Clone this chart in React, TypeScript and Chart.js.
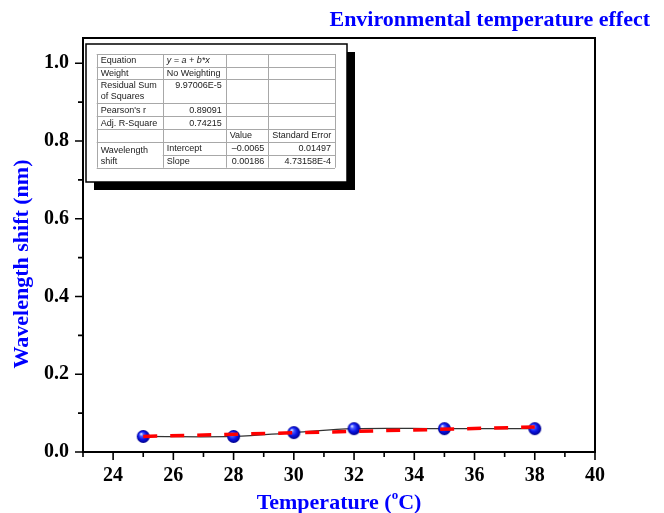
import React, { useEffect, useRef } from 'react';
import { Chart, registerables } from 'chart.js';

Chart.register(...registerables);

// ---- data ----
const temperatures = [25, 28, 30, 32, 35, 38];
const wavelengthShift = [0.04, 0.04, 0.05, 0.06, 0.06, 0.06];
// linear fit endpoints (y = -0.0065 + 0.00186 x, drawn from 25 to 38)
const fitX = [25, 38];
const fitY = [0.04, 0.0642];

const xMin = 23;
const xMax = 40;
const yMin = 0;
const yMax = 1.065;

const chartTitle = 'Environmental temperature effect';
const yTitle = 'Wavelength shift (nm)';
const xTitleMain = 'Temperature (';
const xTitleSup = 'o';
const xTitleEnd = 'C)';

// inset table text
const statLabels = ['Equation', 'Weight', 'Residual Sum\nof Squares', "Pearson's r", 'Adj. R-Square'];
const statValues = ['y = a + b*x', 'No Weighting', '9.97006E-5', '0.89091', '0.74215'];
const paramHeader = ['Value', 'Standard Error'];
const paramGroup = 'Wavelength\nshift';
const paramNames = ['Intercept', 'Slope'];
const paramValues = ['\u20130.0065', '0.00186'];
const paramErrors = ['0.01497', '4.73158E-4'];

const SERIF = '"Liberation Serif", "Times New Roman", serif';
const SANS = '"Liberation Sans", Arial, sans-serif';
const BLUE = '#0000ff';

function makeSphere(r: number) {
  const c = document.createElement('canvas');
  const s = Math.ceil(r * 2) + 2;
  c.width = s;
  c.height = s;
  const g = c.getContext('2d')!;
  const cx = s / 2, cy = s / 2;
  const grad = g.createRadialGradient(cx - r * 0.35, cy - r * 0.4, r * 0.05, cx, cy, r);
  grad.addColorStop(0, '#e6eaff');
  grad.addColorStop(0.25, '#4a5cff');
  grad.addColorStop(0.6, '#0a14e6');
  grad.addColorStop(1, '#00008a');
  g.fillStyle = grad;
  g.beginPath();
  g.arc(cx, cy, r, 0, Math.PI * 2);
  g.fill();
  return c;
}

const decorPlugin = {
  id: 'decor',
  afterDraw(chart: any) {
    const ctx: CanvasRenderingContext2D = chart.ctx;
    const { left, right, top, bottom } = chart.chartArea;
    const xs = chart.scales.x;
    const ys = chart.scales.y;
    ctx.save();

    // frame
    ctx.strokeStyle = '#000';
    ctx.lineWidth = 2;
    ctx.strokeRect(left, top, right - left, bottom - top);

    // tick marks
    ctx.lineWidth = 1.6;
    ctx.beginPath();
    xs.ticks.forEach((t: any) => {
      const v = t.value;
      const px = xs.getPixelForValue(v);
      const major = Math.abs(v / 2 - Math.round(v / 2)) < 1e-6;
      ctx.moveTo(px, bottom);
      ctx.lineTo(px, bottom + (major ? 8 : 5));
    });
    ys.ticks.forEach((t: any) => {
      const v = t.value;
      const py = ys.getPixelForValue(v);
      const k = Math.round(v * 10);
      const major = k % 2 === 0;
      ctx.moveTo(left, py);
      ctx.lineTo(left - (major ? 8 : 5), py);
    });
    ctx.stroke();

    // titles
    ctx.fillStyle = BLUE;
    ctx.font = `bold 22px ${SERIF}`;
    ctx.textBaseline = 'middle';
    ctx.textAlign = 'right';
    ctx.fillText(chartTitle, right + 55, 20);

    // y title
    ctx.save();
    ctx.translate(22, (top + bottom) / 2 + 19);
    ctx.rotate(-Math.PI / 2);
    ctx.textAlign = 'center';
    ctx.fillText(yTitle, 0, 0);
    ctx.restore();

    // x title with superscript
    ctx.textAlign = 'left';
    ctx.font = `bold 22px ${SERIF}`;
    const w1 = ctx.measureText(xTitleMain).width;
    const w3 = ctx.measureText(xTitleEnd).width;
    ctx.font = `bold 13px ${SERIF}`;
    const w2 = ctx.measureText(xTitleSup).width;
    const total = w1 + w2 + w3;
    let x0 = (left + right) / 2 - total / 2;
    const yT = 503;
    ctx.font = `bold 22px ${SERIF}`;
    ctx.fillText(xTitleMain, x0, yT);
    x0 += w1;
    ctx.font = `bold 13px ${SERIF}`;
    ctx.fillText(xTitleSup, x0, yT - 7);
    x0 += w2;
    ctx.font = `bold 22px ${SERIF}`;
    ctx.fillText(xTitleEnd, x0, yT);

    // inset table
    const bx = left + 3, by = top + 6, bw = 261, bh = 138;
    ctx.fillStyle = '#000';
    ctx.fillRect(bx + 8, by + 8, bw, bh);
    ctx.fillStyle = '#fff';
    ctx.fillRect(bx, by, bw, bh);
    ctx.strokeStyle = '#000';
    ctx.lineWidth = 1.5;
    ctx.strokeRect(bx, by, bw, bh);

    const tx = bx + 10.7, ty = by + 10;
    const colW = [66, 63, 42.6, 66.7];
    const rowH = [12.7, 12.6, 24, 13, 12.7, 12.7, 13.3, 12.7];
    const cx: number[] = [tx];
    colW.forEach((w) => cx.push(cx[cx.length - 1] + w));
    const ry: number[] = [ty];
    rowH.forEach((h) => ry.push(ry[ry.length - 1] + h));

    ctx.strokeStyle = '#a8a8a8';
    ctx.lineWidth = 1;
    ctx.beginPath();
    for (let i = 0; i < cx.length; i++) {
      const xx = Math.round(cx[i]) + 0.5;
      ctx.moveTo(xx, ry[0]);
      ctx.lineTo(xx, ry[ry.length - 1]);
    }
    for (let j = 0; j < ry.length; j++) {
      const yy = Math.round(ry[j]) + 0.5;
      const startX = j === 7 ? cx[1] : cx[0];
      ctx.moveTo(startX, yy);
      ctx.lineTo(cx[cx.length - 1], yy);
    }
    ctx.stroke();

    ctx.fillStyle = '#1a1a1a';
    ctx.textBaseline = 'middle';
    const font = `9px ${SANS}`;
    const fontIt = `italic 9px ${SANS}`;
    const pad = 4;
    const drawLeft = (s: string, col: number, yc: number, f = font) => {
      ctx.font = f;
      ctx.textAlign = 'left';
      ctx.fillText(s, cx[col] + pad, yc);
    };
    const drawRight = (s: string, col: number, yc: number) => {
      ctx.font = font;
      ctx.textAlign = 'right';
      ctx.fillText(s, cx[col + 1] - pad, yc);
    };

    statLabels.forEach((lab, i) => {
      const lines = lab.split('\n');
      if (lines.length === 1) {
        const yc = (ry[i] + ry[i + 1]) / 2 + 0.5;
        drawLeft(lab, 0, yc);
      } else {
        drawLeft(lines[0], 0, ry[i] + 6.5);
        drawLeft(lines[1], 0, ry[i] + 17.5);
      }
      const val = statValues[i];
      const yv = lines.length === 1 ? (ry[i] + ry[i + 1]) / 2 + 0.5 : ry[i] + 6.5;
      if (i === 0) drawLeft(val, 1, yv, fontIt);
      else if (i === 1) drawLeft(val, 1, yv);
      else drawRight(val, 1, yv);
    });
    // header row
    const yh = (ry[5] + ry[6]) / 2 + 0.5;
    drawLeft(paramHeader[0], 2, yh);
    drawLeft(paramHeader[1], 3, yh);
    // group label
    const g = paramGroup.split('\n');
    drawLeft(g[0], 0, (ry[6] + ry[7]) / 2 + 2.5);
    drawLeft(g[1], 0, (ry[7] + ry[8]) / 2 + 0.5);
    paramNames.forEach((n, i) => {
      const yc = (ry[6 + i] + ry[7 + i]) / 2 + 0.5;
      drawLeft(n, 1, yc);
      drawRight(paramValues[i], 2, yc);
      drawRight(paramErrors[i], 3, yc);
    });

    ctx.restore();
  },
};

export default function App() {
  const canvasRef = useRef<HTMLCanvasElement | null>(null);

  useEffect(() => {
    const canvas = canvasRef.current;
    if (!canvas) return;
    const sphere = makeSphere(6.5);
    const points = temperatures.map((t, i) => ({ x: t, y: wavelengthShift[i] }));
    const fitPoints = fitX.map((x, i) => ({ x, y: fitY[i] }));

    const chart = new Chart(canvas, {
      type: 'scatter',
      data: {
        datasets: [
          {
            label: 'Linear fit',
            data: fitPoints,
            showLine: true,
            borderColor: '#ff0000',
            borderWidth: 3.5,
            borderDash: [14, 13],
            pointRadius: 0,
            tension: 0,
            order: 0,
          } as any,
          {
            label: 'Wavelength shift',
            data: points,
            showLine: false,
            pointStyle: sphere as any,
            pointRadius: 6.5,
            order: 1,
          } as any,
          {
            label: 'Spline',
            data: points,
            showLine: true,
            borderColor: '#333333',
            borderWidth: 1.2,
            tension: 0.4,
            pointRadius: 0,
            order: 2,
          } as any,
        ],
      },
      options: {
        animation: false,
        responsive: true,
        maintainAspectRatio: false,
        layout: { padding: { left: 0, top: 38, right: 69, bottom: 0 } },
        plugins: {
          legend: { display: false },
          tooltip: { enabled: false },
          title: { display: false },
        },
        scales: {
          x: {
            type: 'linear',
            min: xMin,
            max: xMax,
            afterFit: (scale: any) => {
              scale.height = 61;
            },
            ticks: {
              stepSize: 1,
              autoSkip: false,
              maxRotation: 0,
              padding: 4,
              color: '#000',
              font: { family: SERIF, size: 20, weight: 'bold' },
              callback: (v: any) => (Math.round(v) % 2 === 0 ? String(v) : ''),
            },
            grid: {
              display: true,
              drawOnChartArea: false,
              drawTicks: true,
              tickLength: 8,
              color: 'rgba(0,0,0,0)',
            },
            border: { display: false },
          },
          y: {
            type: 'linear',
            min: yMin,
            max: yMax,
            afterFit: (scale: any) => {
              scale.width = 83;
            },
            ticks: {
              stepSize: 0.1,
              includeBounds: false,
              autoSkip: false,
              padding: 6,
              color: '#000',
              font: { family: SERIF, size: 20, weight: 'bold' },
              callback: (v: any) => {
                const k = Math.round(v * 10);
                return Math.abs(v * 10 - k) < 1e-6 && k % 2 === 0 ? (k / 10).toFixed(1) : '';
              },
            },
            grid: {
              display: true,
              drawOnChartArea: false,
              drawTicks: true,
              tickLength: 8,
              color: 'rgba(0,0,0,0)',
            },
            border: { display: false },
          },
        },
      } as any,
      plugins: [decorPlugin],
    });

    return () => chart.destroy();
  }, []);

  return (
    <div
      style={{
        position: 'fixed',
        left: 0,
        top: 0,
        width: 664,
        height: 513,
        background: '#fff',
      }}
    >
      <canvas ref={canvasRef} />
    </div>
  );
}
